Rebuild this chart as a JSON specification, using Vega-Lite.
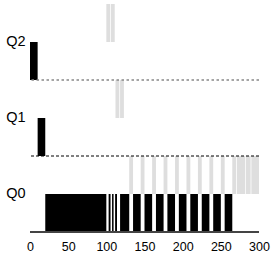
{
  "$schema": "https://vega.github.io/schema/vega-lite/v6.json",
  "width": 229,
  "height": 228,
  "autosize": {"type": "none"},
  "padding": {"left": 30, "top": 4, "right": 17, "bottom": 26},
  "background": "white",
  "config": {"view": {"stroke": null}, "font": "Liberation Sans"},
  "datasets": {
    "slices": [
      {"job": "A", "queue": "Q2", "start": 0, "end": 10},
      {"job": "A", "queue": "Q1", "start": 10, "end": 20},
      {"job": "A", "queue": "Q0", "start": 20, "end": 100},
      {"job": "A", "queue": "Q0", "start": 103, "end": 105.5},
      {"job": "A", "queue": "Q0", "start": 107.5, "end": 109.5},
      {"job": "A", "queue": "Q0", "start": 111.5, "end": 114},
      {"job": "A", "queue": "Q0", "start": 118, "end": 130},
      {"job": "A", "queue": "Q0", "start": 135, "end": 145},
      {"job": "A", "queue": "Q0", "start": 150, "end": 160},
      {"job": "A", "queue": "Q0", "start": 165, "end": 175},
      {"job": "A", "queue": "Q0", "start": 180, "end": 190},
      {"job": "A", "queue": "Q0", "start": 195, "end": 205},
      {"job": "A", "queue": "Q0", "start": 210, "end": 220},
      {"job": "A", "queue": "Q0", "start": 225, "end": 235},
      {"job": "A", "queue": "Q0", "start": 240, "end": 250},
      {"job": "A", "queue": "Q0", "start": 255, "end": 265},
      {"job": "B", "queue": "Q2", "start": 100, "end": 105},
      {"job": "B", "queue": "Q2", "start": 106, "end": 111},
      {"job": "B", "queue": "Q1", "start": 112, "end": 117},
      {"job": "B", "queue": "Q1", "start": 118, "end": 123},
      {"job": "B", "queue": "Q0", "start": 130, "end": 135},
      {"job": "B", "queue": "Q0", "start": 145, "end": 150},
      {"job": "B", "queue": "Q0", "start": 160, "end": 165},
      {"job": "B", "queue": "Q0", "start": 175, "end": 180},
      {"job": "B", "queue": "Q0", "start": 190, "end": 195},
      {"job": "B", "queue": "Q0", "start": 205, "end": 210},
      {"job": "B", "queue": "Q0", "start": 220, "end": 225},
      {"job": "B", "queue": "Q0", "start": 235, "end": 240},
      {"job": "B", "queue": "Q0", "start": 250, "end": 255},
      {"job": "B", "queue": "Q0", "start": 265, "end": 270},
      {"job": "B", "queue": "Q0", "start": 271, "end": 282},
      {"job": "B", "queue": "Q0", "start": 283, "end": 289},
      {"job": "B", "queue": "Q0", "start": 290, "end": 300}
    ],
    "q2line": [{"queue": "Q2"}],
    "q1line": [{"queue": "Q1"}],
    "q0line": [{"queue": "Q0"}]
  },
  "layer": [
    {
      "data": {"name": "slices"},
      "mark": {"type": "bar"},
      "encoding": {
        "x": {
          "field": "start", "type": "quantitative",
          "scale": {"domain": [0, 300], "nice": false, "zero": false},
          "axis": {"values": [0, 50, 100, 150, 200, 250, 300], "ticks": false, "domain": false, "grid": false, "labelFontSize": 12.5, "labelPadding": 8, "labelFlush": false, "title": null, "labelColor": "#000000"}
        },
        "x2": {"field": "end"},
        "y": {
          "field": "queue", "type": "nominal",
          "scale": {"domain": ["Q2", "Q1", "Q0"], "paddingInner": 0, "paddingOuter": 0},
          "axis": {"ticks": false, "domain": false, "grid": false, "labelFontSize": 14.5, "labelPadding": 5, "title": null, "labelColor": "#000000"}
        },
        "yOffset": {
          "field": "job", "type": "nominal",
          "scale": {"domain": ["B", "A"], "paddingInner": 0, "paddingOuter": 0}
        },
        "color": {
          "field": "job", "type": "nominal",
          "scale": {"domain": ["A", "B"], "range": ["#000000", "#dedede"]},
          "legend": null
        }
      }
    },
    {
      "data": {"name": "q2line"},
      "mark": {"type": "rule", "color": "#888888", "strokeWidth": 1.3, "strokeDash": [2.5, 2.5]},
      "encoding": {"y": {"field": "queue", "type": "nominal", "bandPosition": 1}}
    },
    {
      "data": {"name": "q1line"},
      "mark": {"type": "rule", "color": "#000000", "strokeWidth": 1, "strokeDash": [3, 2]},
      "encoding": {"y": {"field": "queue", "type": "nominal", "bandPosition": 1}}
    },
    {
      "data": {"name": "q0line"},
      "mark": {"type": "rule", "color": "#444444", "strokeWidth": 2},
      "encoding": {"y": {"field": "queue", "type": "nominal", "bandPosition": 1}}
    }
  ]
}
